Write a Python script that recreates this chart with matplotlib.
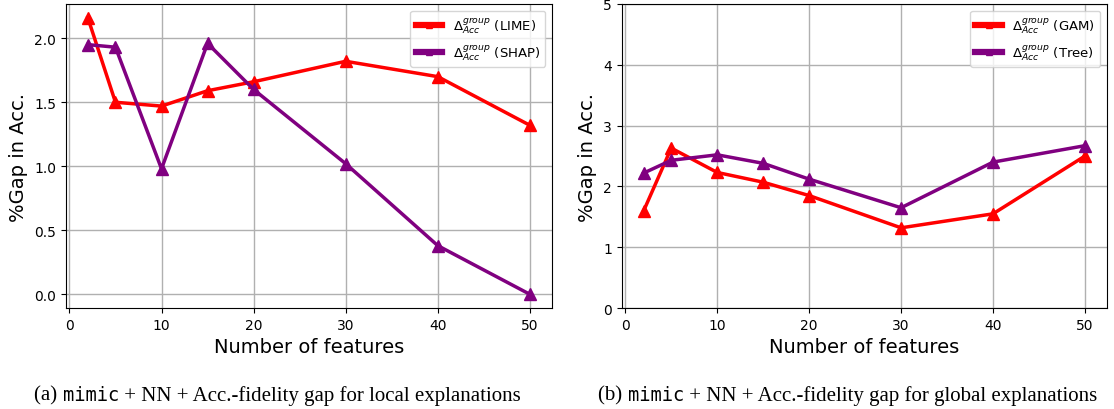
import matplotlib
matplotlib.use("Agg")
import matplotlib.pyplot as plt
from matplotlib.offsetbox import TextArea, HPacker, AnchoredOffsetbox

n_features = [2, 5, 10, 15, 20, 30, 40, 50]

# local explanations
lime_gap = [2.16, 1.50, 1.47, 1.59, 1.66, 1.82, 1.70, 1.32]
shap_gap = [1.95, 1.93, 0.98, 1.96, 1.60, 1.02, 0.38, 0.00]

# global explanations
gam_gap = [1.60, 2.63, 2.23, 2.07, 1.85, 1.32, 1.55, 2.50]
tree_gap = [2.22, 2.43, 2.52, 2.38, 2.12, 1.65, 2.40, 2.67]

lbl = r"$\Delta_{Acc}^{group}$"


def draw(ax, s1, s2, names):
    ax.plot(n_features, s1, color="red", marker="^", markersize=8, lw=2.5, label=f"{lbl} ({names[0]})")
    ax.plot(n_features, s2, color="purple", marker="^", markersize=8, lw=2.5, label=f"{lbl} ({names[1]})")
    ax.grid(True, color="#b0b0b0", lw=1)
    ax.set_xlabel("Number of features", fontsize=14)
    ax.set_ylabel("%Gap in Acc.", fontsize=14)
    leg = ax.legend(loc="upper right", fontsize=9.5)
    for h in leg.legend_handles:
        h.set_linewidth(4.5)
        h.set_markersize(5)


def caption(fig, x, letter, rest):
    parts = [
        TextArea(f"({letter}) ", textprops=dict(family="Liberation Serif", size=15)),
        TextArea("mimic", textprops=dict(family="DejaVu Sans Mono", size=13.5)),
        TextArea(" + NN + Acc.-fidelity gap for " + rest, textprops=dict(family="Liberation Serif", size=15)),
    ]
    box = HPacker(children=parts, align="baseline", pad=0, sep=0)
    ab = AnchoredOffsetbox(loc="center", child=box, frameon=False,
                           bbox_to_anchor=(x, 0.035), bbox_transform=fig.transFigure)
    fig.add_artist(ab)


fig = plt.figure(figsize=(11.14, 4.1), dpi=100)
ax1 = fig.add_axes([0.059, 0.246, 0.4365, 0.742])
ax2 = fig.add_axes([0.558, 0.246, 0.4357, 0.742])

draw(ax1, lime_gap, shap_gap, ["LIME", "SHAP"])
draw(ax2, gam_gap, tree_gap, ["GAM", "Tree"])
ax2.set_ylim(0, 5)

caption(fig, 0.249, "a", "local explanations")
caption(fig, 0.761, "b", "global explanations")

fig.savefig("out.png", dpi=100)
